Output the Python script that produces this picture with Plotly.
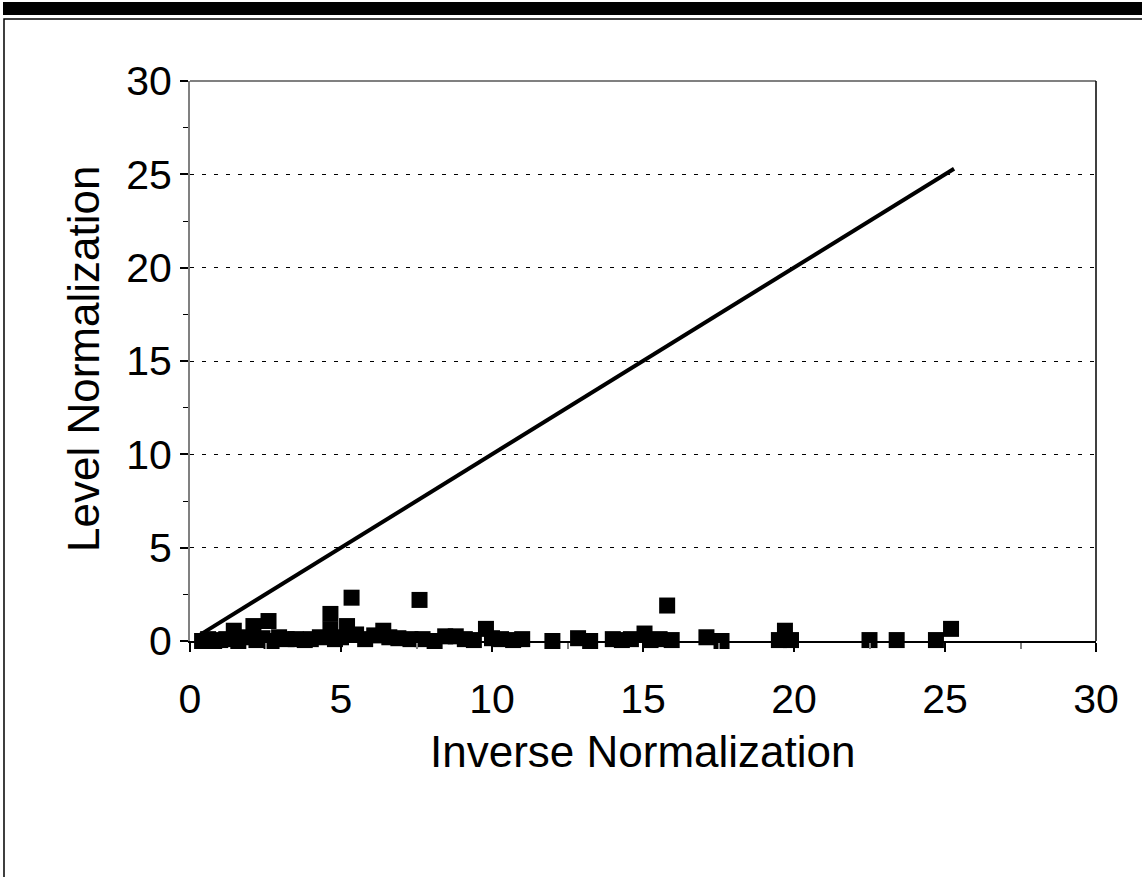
import plotly.graph_objects as go

# ---- data ----
inverse_norm = [0.4, 0.6, 0.8, 1.0, 1.2, 1.45, 1.6, 1.9, 2.1, 2.2, 2.4, 2.6, 2.7, 2.95, 3.2,
                3.5, 3.8, 4.0, 4.3, 4.65, 4.65, 4.8, 5.0, 5.2, 5.35, 5.5, 5.8, 6.1, 6.4, 6.6,
                6.9, 7.3, 7.6, 7.7, 8.1, 8.45, 8.8, 9.1, 9.4, 9.8, 10.0, 10.3, 10.7, 11.0,
                12.0, 12.85, 13.25, 14.0, 14.3, 14.6, 15.05, 15.25, 15.55, 15.8, 15.95,
                17.1, 17.6, 19.5, 19.7, 19.9, 22.5, 23.4, 24.7, 25.2]
level_norm = [0.0, 0.1, 0.0, 0.05, 0.1, 0.55, 0.0, 0.2, 0.8, 0.05, 0.15, 1.07, 0.0, 0.2, 0.1,
              0.1, 0.05, 0.1, 0.2, 1.45, 0.6, 0.1, 0.2, 0.8, 2.32, 0.35, 0.1, 0.3, 0.55, 0.2,
              0.15, 0.1, 2.2, 0.1, 0.0, 0.25, 0.25, 0.1, 0.05, 0.65, 0.15, 0.1, 0.05, 0.1,
              0.0, 0.15, 0.0, 0.1, 0.05, 0.1, 0.4, 0.05, 0.1, 1.9, 0.05,
              0.2, 0.0, 0.05, 0.55, 0.05, 0.05, 0.05, 0.05, 0.65]
line_x = [0.3, 25.3]
line_y = [0.3, 25.3]
tick_vals = [0, 5, 10, 15, 20, 25, 30]
x_title = "Inverse Normalization"
y_title = "Level Normalization"

FONT = "Liberation Sans, Arial, sans-serif"

fig = go.Figure()
fig.add_trace(go.Scatter(x=line_x, y=line_y, mode="lines",
                         line=dict(color="black", width=4), showlegend=False, hoverinfo="skip"))
fig.add_trace(go.Scatter(x=inverse_norm, y=level_norm, mode="markers",
                         marker=dict(symbol="square", size=16, color="black", line=dict(width=0)),
                         showlegend=False, cliponaxis=False))

fig.update_layout(
    width=1142, height=877,
    margin=dict(l=190, r=46, t=81, b=236, autoexpand=False),
    paper_bgcolor="white", plot_bgcolor="white",
    font=dict(family=FONT, color="black", size=41),
    xaxis=dict(range=[0, 30], tickvals=tick_vals, ticks="outside", ticklen=9, tickwidth=1.5,
               tickcolor="black", showline=True, linecolor="black", linewidth=1.5,
               showgrid=False, zeroline=False, ticklabelstandoff=12,
               tickfont=dict(size=41, family=FONT),
               minor=dict(dtick=2.5, ticks="outside", ticklen=6, tickcolor="#808080", tickwidth=1.5)),
    yaxis=dict(range=[0, 30], tickvals=tick_vals, ticks="outside", ticklen=8, tickwidth=1.5,
               tickcolor="black", showline=True, linecolor="#808080", linewidth=2,
               showgrid=True, gridcolor="black", gridwidth=1, griddash="4px,8px",
               zeroline=False, ticklabelstandoff=0,
               tickfont=dict(size=41, family=FONT),
               minor=dict(dtick=2.5, ticks="outside", ticklen=5, tickcolor="black", tickwidth=1)),
    annotations=[
        dict(text=x_title, xref="paper", yref="paper", x=0.5, y=-0.198, xanchor="center",
             yanchor="middle", showarrow=False, font=dict(size=44, family=FONT)),
        dict(text=y_title, xref="paper", yref="paper", x=-0.117, y=0.5036, xanchor="center",
             yanchor="middle", textangle=-90, showarrow=False, font=dict(size=44, family=FONT)),
    ],
    shapes=[
        # top black bar
        dict(type="rect", xref="paper", yref="paper", x0=-0.2064, x1=1.06, y0=1.1178, y1=1.1411,
             fillcolor="black", line=dict(width=0), layer="above"),
        # outer frame
        dict(type="rect", xref="paper", yref="paper", x0=-0.2053, x1=1.06, y0=-0.45, y1=1.1107,
             line=dict(color="black", width=1.5), fillcolor="rgba(0,0,0,0)", layer="above"),
        # plot area top edge (gray) and right edge (black)
        dict(type="line", xref="paper", yref="paper", x0=0, x1=1, y0=1, y1=1,
             line=dict(color="#808080", width=2), layer="above"),
        dict(type="line", xref="paper", yref="paper", x0=1, x1=1, y0=0, y1=1,
             line=dict(color="black", width=1.5), layer="above"),
    ],
)

fig.write_html("out.html")
